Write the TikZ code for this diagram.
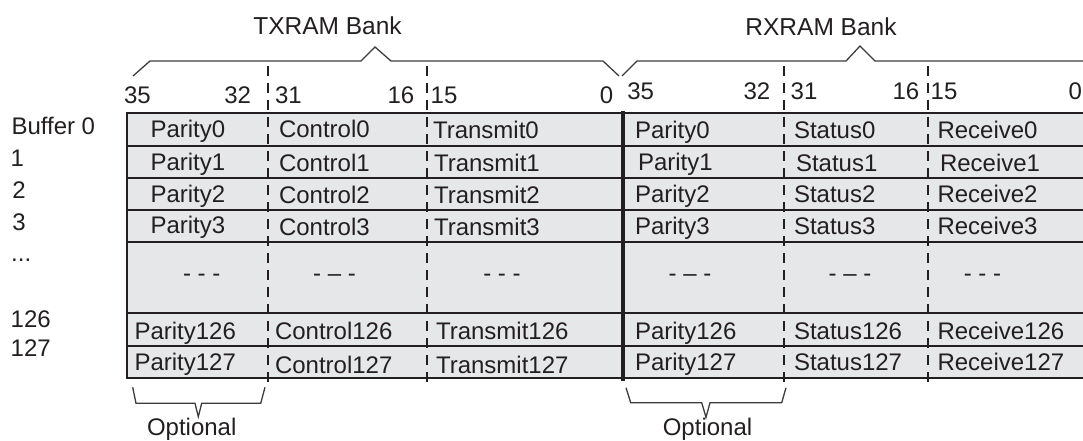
\documentclass[tikz,border=0pt]{standalone}
\usepackage{fontspec}
\setmainfont{Liberation Sans}
\definecolor{ink}{HTML}{231F20}
\definecolor{cellfill}{HTML}{E6E7E8}
\definecolor{bracecol}{HTML}{3C3C3C}
\begin{document}
\begin{tikzpicture}[x=1pt,y=-1pt,
  txt/.style={anchor=base west, inner sep=0pt, outer sep=0pt, text=ink, font=\fontsize{24}{28}\selectfont},
  txtr/.style={txt, anchor=base east},
  txtc/.style={txt, anchor=base},
  banktxt/.style={txtc, font=\fontsize{24.5}{28}\selectfont},
  rowline/.style={draw=ink, line width=2pt},
  colline/.style={draw=ink, line width=2pt, dash pattern=on 10pt off 7pt},
  divline/.style={draw=ink, line width=4pt},
  braceline/.style={draw=bracecol, line width=1.3pt, line join=miter}]
\useasboundingbox (0,0) rectangle (1083,441);
\clip (0,0) rectangle (1083,441);

% table background
\coordinate (tl) at (127,113);
\coordinate (br) at (1090,378);
\fill[cellfill] (tl) rectangle (br);

% row lines
\foreach \y [count=\i] in {113,145.7,177.7,210,241.7,313.3,346,378} {
  \coordinate (rl\i) at (127,\y);
  \coordinate (rr\i) at (1090,\y);
}
\foreach \i in {2,...,7} { \draw[rowline] (rl\i) -- (rr\i); }
\draw[rowline] (rr1) -- (rl1) -- (rl8) -- (rr8);

% dashed column lines
\foreach \x [count=\i] in {267.7,426.7,783.7,927.7} {
  \coordinate (ct\i) at (\x,66);
  \coordinate (cb\i) at (\x,384);
  \draw[colline] (ct\i) -- (cb\i);
}
% bank divider
\coordinate (dvt) at (623.3,111);
\coordinate (dvb) at (623.3,381);
\draw[divline] (dvt) -- (dvb);

% top braces
\coordinate (txa) at (133,76);  \coordinate (txb) at (150,61);
\coordinate (txc) at (361,61);  \coordinate (txd) at (375,47);
\coordinate (txe) at (391,61);  \coordinate (txf) at (603,61);
\coordinate (txg) at (619,76);
\draw[braceline] (txa) -- (txb) -- (txc) -- (txd) -- (txe) -- (txf) -- (txg);
\coordinate (rxa) at (622,76);  \coordinate (rxb) at (637,61);
\coordinate (rxc) at (846,61);  \coordinate (rxd) at (860,46);
\coordinate (rxe) at (875,61);  \coordinate (rxf) at (1090,61);
\draw[braceline] (rxa) -- (rxb) -- (rxc) -- (rxd) -- (rxe) -- (rxf);

% bottom braces
\coordinate (toa) at (132.7,387.3); \coordinate (tob) at (136,403.3);
\coordinate (toc) at (195,403.3);   \coordinate (tod) at (198.3,416.7);
\coordinate (toe) at (201.7,403.3); \coordinate (tof) at (260.7,403.3);
\coordinate (tog) at (265,387.3);
\draw[braceline] (toa) -- (tob) -- (toc) -- (tod) -- (toe) -- (tof) -- (tog);
\coordinate (roa) at (626,387.7);   \coordinate (rob) at (630.7,402.7);
\coordinate (roc) at (701.7,402.7); \coordinate (rod) at (706,417.3);
\coordinate (roe) at (710,402.7);   \coordinate (rof) at (781.7,402.7);
\coordinate (rog) at (786,387.7);
\draw[braceline] (roa) -- (rob) -- (roc) -- (rod) -- (roe) -- (rof) -- (rog);

% bank labels
\node[banktxt] (txbank) at (327.5,34.5) {TXRAM Bank};
\node[banktxt] (rxbank) at (821,35.7) {RXRAM Bank};
\node[txtc] (txopt) at (191.7,435.5) {Optional};
\node[txtc] (rxopt) at (707.5,435.5) {Optional};

% bit numbers
\node[txt]  (n1) at (124,103.3) {35};
\node[txtr] (n2) at (251,103.3) {32};
\node[txt]  (n3) at (275,103.3) {31};
\node[txtr] (n4) at (414.3,103.3) {16};
\node[txt]  (n5) at (430.7,103.3) {15};
\node[txtr] (n6) at (613.3,103.3) {0};
\node[txt]  (m1) at (627.3,100) {35};
\node[txtr] (m2) at (770.3,100) {32};
\node[txt]  (m3) at (790.7,100) {31};
\node[txtr] (m4) at (919.3,100) {16};
\node[txt]  (m5) at (930.7,100) {15};
\node[txtr] (m6) at (1082,100) {0};

% buffer labels
\node[txt] (b0) at (11.5,134) {Buffer 0};
\node[txt] (b1) at (10.7,166) {1};
\node[txt] (b2) at (12.3,198) {2};
\node[txt] (b3) at (12.3,230) {3};
\node[txt] (bd) at (11.2,261.5) {...};
\node[txt] (b126) at (10.7,327) {126};
\node[txt] (b127) at (10.7,356) {127};

% row 0
\node[txt] (p0) at (150.5,137.7) {Parity0};
\node[txt] (c0) at (279,137.7) {Control0};
\node[txt] (t0) at (433,138.3) {Transmit0};
\node[txt] (q0) at (635,138) {Parity0};
\node[txt] (s0) at (794,138) {Status0};
\node[txt] (r0) at (937.5,138) {Receive0};
% row 1
\node[txt] (p1) at (150.5,170) {Parity1};
\node[txt] (c1) at (279,171.7) {Control1};
\node[txt] (t1) at (434,171.7) {Transmit1};
\node[txt] (q1) at (638,170.5) {Parity1};
\node[txt] (s1) at (796,171.7) {Status1};
\node[txt] (r1) at (940,171.7) {Receive1};
% row 2
\node[txt] (p2) at (150.5,202.2) {Parity2};
\node[txt] (c2) at (279,203.3) {Control2};
\node[txt] (t2) at (434,203.3) {Transmit2};
\node[txt] (q2) at (635,202.5) {Parity2};
\node[txt] (s2) at (794,202.7) {Status2};
\node[txt] (r2) at (937.5,202.7) {Receive2};
% row 3
\node[txt] (p3) at (150.5,233.5) {Parity3};
\node[txt] (c3) at (279,235) {Control3};
\node[txt] (t3) at (434,235) {Transmit3};
\node[txt] (q3) at (635,234.3) {Parity3};
\node[txt] (s3) at (794,234.3) {Status3};
\node[txt] (r3) at (937.5,234.3) {Receive3};
% ellipsis row
\node[txtc] (pd) at (201.7,281.5) {- - -};
\node[txtc] (cd) at (334.5,281.5) {- – -};
\node[txtc] (td) at (502,281.5) {- - -};
\node[txtc] (qd) at (690,281.5) {- – -};
\node[txtc] (sd) at (850,281.5) {- – -};
\node[txtc] (rd) at (982.5,281.5) {- - -};
% row 126
\node[txt] (p126) at (134.5,339) {Parity126};
\node[txt] (c126) at (275,339.5) {Control126};
\node[txt] (t126) at (436,339.5) {Transmit126};
\node[txt] (q126) at (635,339) {Parity126};
\node[txt] (s126) at (794,339) {Status126};
\node[txt] (r126) at (937.5,339) {Receive126};
% row 127
\node[txt] (p127) at (134.5,370.7) {Parity127};
\node[txt] (c127) at (275,373.2) {Control127};
\node[txt] (t127) at (436,373.2) {Transmit127};
\node[txt] (q127) at (635,370.7) {Parity127};
\node[txt] (s127) at (794,370.7) {Status127};
\node[txt] (r127) at (937.5,370.7) {Receive127};
\end{tikzpicture}
\end{document}
